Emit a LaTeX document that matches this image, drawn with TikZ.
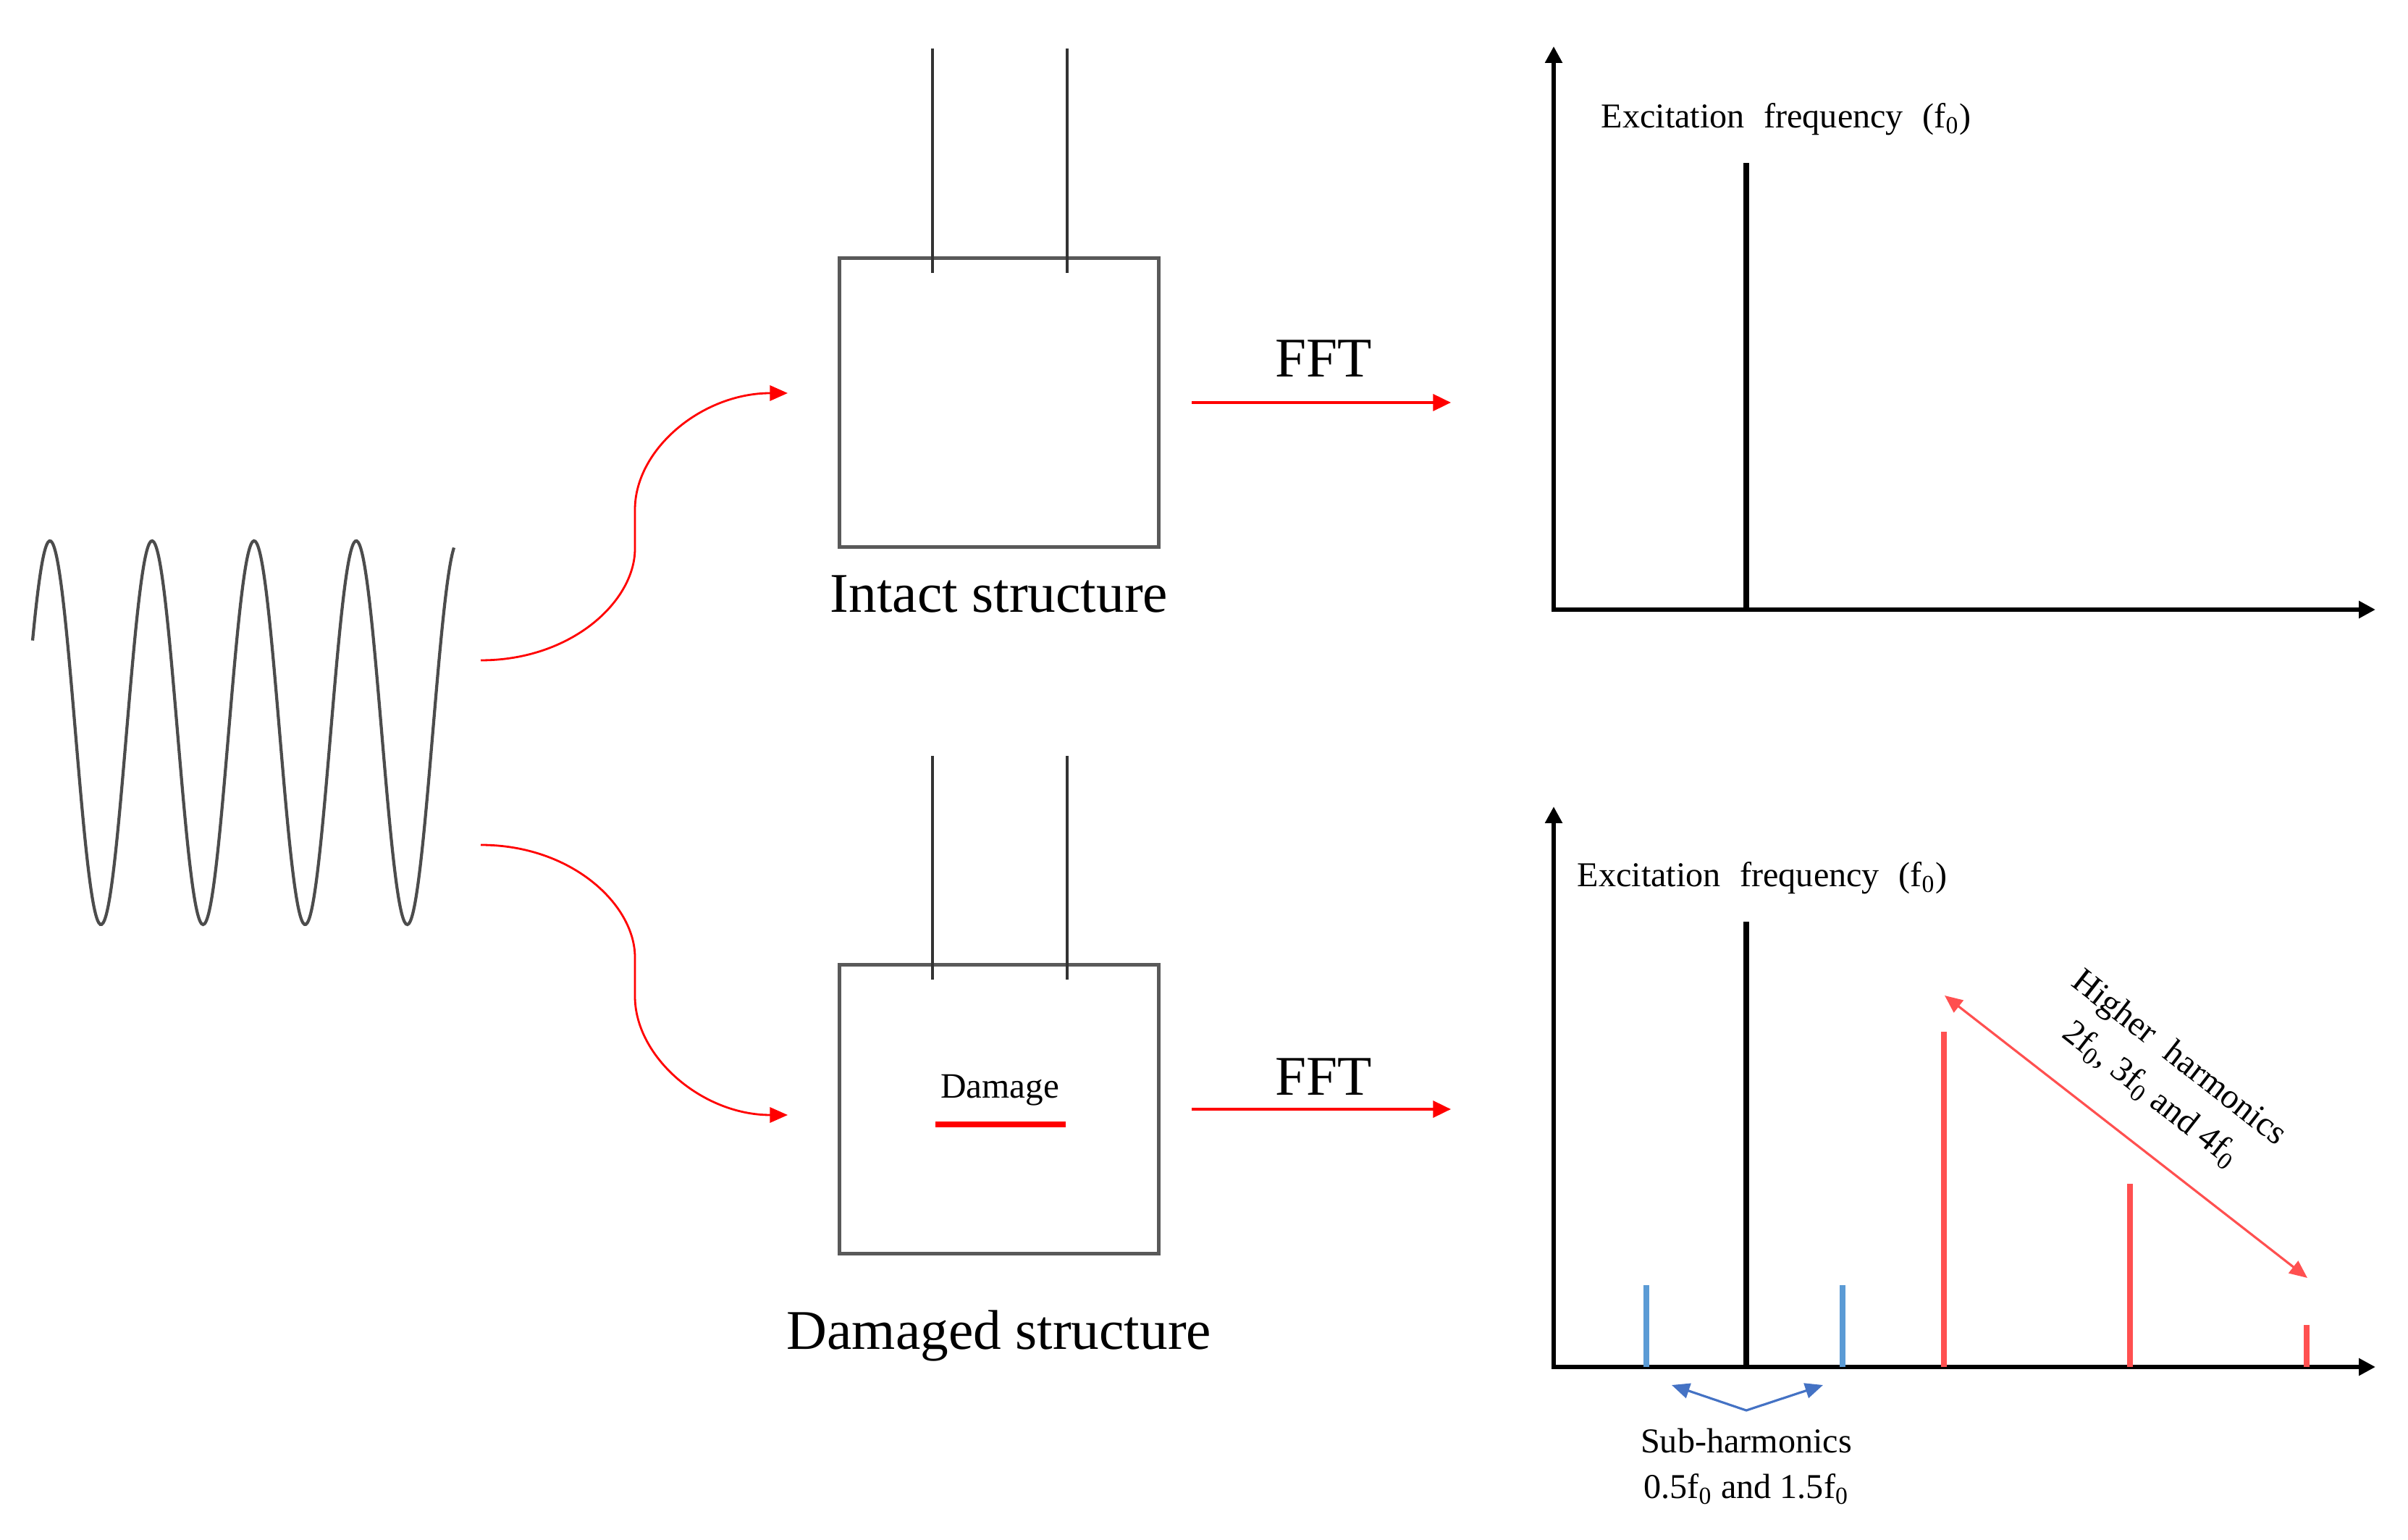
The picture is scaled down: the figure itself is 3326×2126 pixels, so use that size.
\documentclass[tikz,border=0pt]{standalone}
\usepackage{fontspec}
\setmainfont{Liberation Serif}
\usetikzlibrary{positioning,arrows.meta}
\definecolor{harmred}{RGB}{255,80,80}
\definecolor{subblue}{RGB}{91,155,213}
\definecolor{arrblue}{RGB}{68,114,196}
\newcommand{\fz}{f\textsubscript{0}}

\begin{document}
\begin{tikzpicture}[x=0.01cm,y=0.01cm,font=\fontsize{13.7}{18}\selectfont,
 struct/.style={draw=black!65,line width=1.4pt,minimum width=4.41cm,minimum height=3.99cm,inner sep=0pt},
 big/.style={font=\fontsize{22}{26}\selectfont},
 post/.style={black!80,line width=1.1pt},
 arr/.style={red,line width=0.8pt,-{Triangle[length=7pt,width=6pt]}},
 fft/.style={red,line width=1.1pt,-{Triangle[length=7pt,width=6.5pt]}},
 ax/.style={line width=1.6pt,{Triangle[length=6.5pt,width=6.5pt]}-{Triangle[length=6.5pt,width=6.5pt]}},
 bar/.style={line width=2.1pt},
 dbl/.style={line width=0.9pt,{Triangle[length=7pt,width=6pt]}-{Triangle[length=7pt,width=6pt]}}]
\useasboundingbox (0,0) rectangle (3326,2126);
\draw[black!70,line width=1.2pt] plot[domain=45:627,samples=300,smooth] (\x,{1114+265*cos(2.5532*(\x-69))});
\coordinate (src1) at (664,1214); \coordinate (src2) at (664,959);
\coordinate (in1) at (1088,1583); \coordinate (in2) at (1088,586);
\node[struct] (intact) at (1380,1570) {};
\node[struct] (damaged) at (1380,594) {};
\node[big,below=7pt of intact] (intactlbl) {Intact structure};
\node[big,below=18pt of damaged] (damagedlbl) {Damaged structure};
\draw[post] (1288,2059) -- (1288,1749); \draw[post] (1474,2059) -- (1474,1749);
\draw[post] (1288,1082) -- (1288,773); \draw[post] (1474,1082) -- (1474,773);
\node[font=\fontsize{14}{17}\selectfont] (dmg) at (1381,620) {Damage};
\draw[red,line width=2.3pt] (1292,573) -- (1472,573);
\coordinate (o1) at (2146,1284); \coordinate (o2) at (2146,238);
\coordinate (fo1) at (2004,1570); \coordinate (fo2) at (2004,594);
\node[big] (fftlbl1) at (1828,1631) {FFT};
\node[big] (fftlbl2) at (1828,639) {FFT};
\draw[ax] (2146,2062) -- (o1) -- (3281,1284);
\draw[ax] (2146,1012) -- (o2) -- (3281,238);
\draw[bar] (2412,1284) -- (2412,1901);
\draw[bar] (2412,238) -- (2412,853);
\foreach \xb/\yb/\cb in {2274/351/subblue,2545/351/subblue,2685/701/harmred,2942/491/harmred,3186/296/harmred}
  \draw[bar,\cb] (\xb,238) -- (\xb,\yb);
\node (exc1) at (2467,1961) {Excitation\hspace{0.3em} frequency\hspace{0.3em} (\fz)};
\node (exc2) at (2434,913) {Excitation\hspace{0.3em} frequency\hspace{0.3em} (\fz)};
\coordinate (hh1) at (2686,751); \coordinate (hh2) at (3187,361);
\node[rotate=-38,align=center] (hhlbl) at (2990,639) {Higher\hspace{0.3em} harmonics\\2\fz, 3\fz\ and 4\fz};
\coordinate (sl) at (2309,213); \coordinate (sv) at (2412,178); \coordinate (sr) at (2518,213);
\node[align=center] (sublbl) at (2412,101) {Sub-harmonics\\0.5\fz\ and 1.5\fz};
\draw[arr] (src1) .. controls (790,1214) and (877,1296) .. (877,1368) -- (877,1422) .. controls (877,1506) and (970,1583) .. (in1);
\draw[arr] (src2) .. controls (790,959) and (877,876) .. (877,804) -- (877,750) .. controls (877,666) and (970,586) .. (in2);
\draw[fft,shorten <=0.43cm] (intact.east) -- (fo1);
\draw[fft,shorten <=0.43cm] (damaged.east) -- (fo2);
\draw[dbl,harmred] (hh1) -- (hh2);
\draw[dbl,arrblue] (sl) -- (sv) -- (sr);
\end{tikzpicture}
\end{document}
